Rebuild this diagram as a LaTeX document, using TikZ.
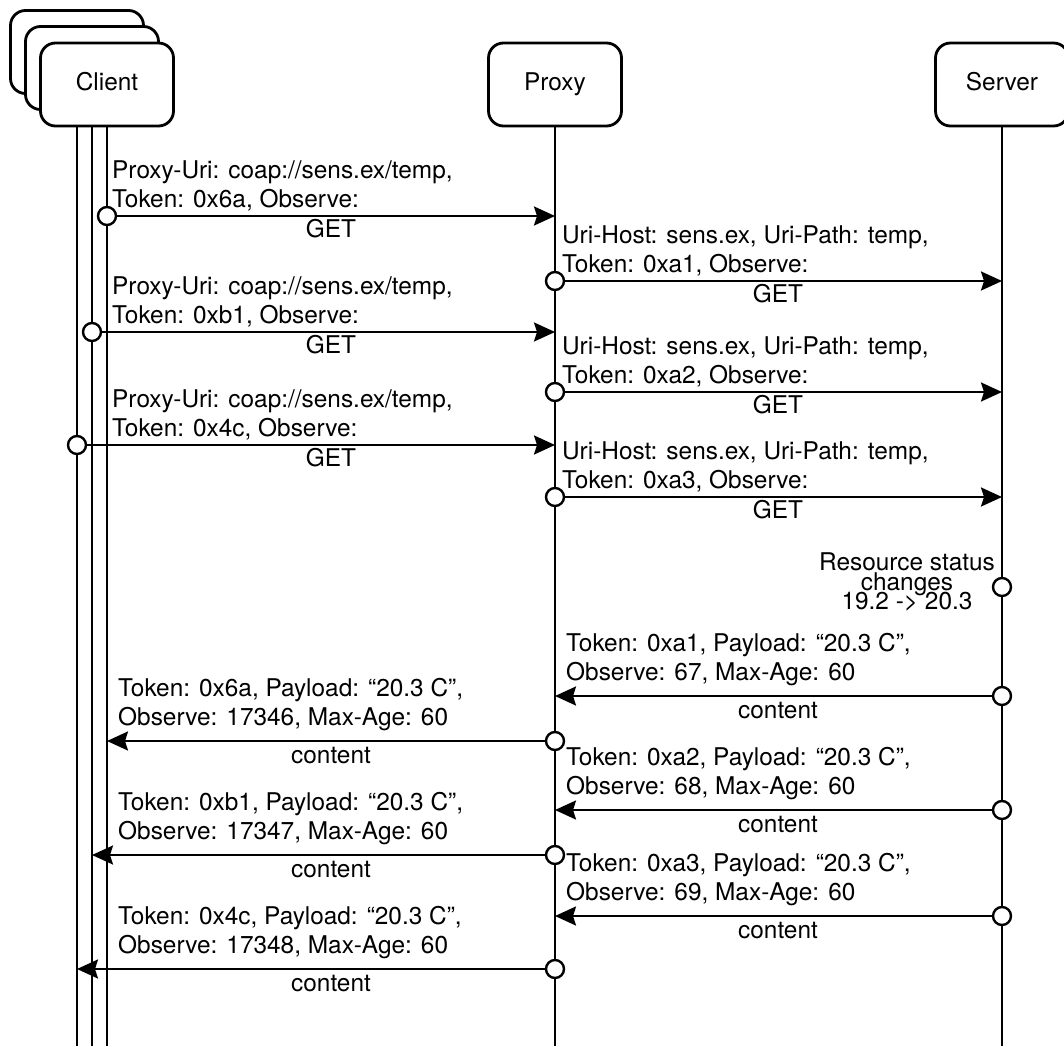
\documentclass[tikz,border=0pt]{standalone}
\usepackage{fontspec}
\setmainfont{TeX Gyre Heros}
\usetikzlibrary{arrows.meta}

\begin{document}
\begin{tikzpicture}[
    x=1pt, y=-1pt,
    every node/.style={font=\fontsize{24.4}{29}\selectfont},
    actor/.style={draw, line width=2.8pt, rounded corners=15pt, fill=white, minimum width=133pt, minimum height=83pt, inner sep=0pt, text height=17.5pt, text depth=5pt},
    life/.style={line width=2.6pt},
    msg/.style={-{Stealth[length=21pt, width=19pt, inset=3pt]}, line width=2.4pt},
    dot/.style={circle, draw, fill=white, line width=2.4pt, minimum size=18pt, inner sep=0pt},
    note/.style={anchor=south west, align=left, inner sep=0pt},
    tag/.style={anchor=base, inner sep=0pt}
]
    \useasboundingbox (0,0) rectangle (1064,1046);
    \coordinate (bottom) at (0,1046);

    % Participants
    \node[actor] (client1) at (77,52) {};
    \draw[life] (client1.south) -- (client1 |- bottom);
    \node[actor] (client2) at (92,68) {};
    \draw[life] (client2.south) -- (client2 |- bottom);
    \node[actor] (client3) at (107,84.5) {Client};
    \draw[life] (client3.south) -- (client3 |- bottom);
    \node[actor] (proxy) at (555,84.5) {Proxy};
    \draw[life] (proxy.south) -- (proxy |- bottom);
    \node[actor] (server) at (1002,84.5) {Server};
    \draw[life] (server.south) -- (server |- bottom);

    % Registrations
    \node[note] (req1txt) at (112,216) {Proxy-Uri: coap://sens.ex/temp,\\Token: 0x6a, Observe:\strut};
    \node[tag] (req1tag) at (331,237) {GET};
    \node[dot] (req1) at (107,216) {};
    \draw[msg] (req1) -- (proxy |- req1);

    \node[note] (relay1txt) at (562,281) {Uri-Host: sens.ex, Uri-Path: temp,\\Token: 0xa1, Observe:\strut};
    \node[tag] (relay1tag) at (778,302) {GET};
    \node[dot] (relay1) at (555,281) {};
    \draw[msg] (relay1) -- (server |- relay1);

    \node[note] (req2txt) at (112,332) {Proxy-Uri: coap://sens.ex/temp,\\Token: 0xb1, Observe:\strut};
    \node[tag] (req2tag) at (331,353) {GET};
    \node[dot] (req2) at (92,332) {};
    \draw[msg] (req2) -- (proxy |- req2);

    \node[note] (relay2txt) at (562,392) {Uri-Host: sens.ex, Uri-Path: temp,\\Token: 0xa2, Observe:\strut};
    \node[tag] (relay2tag) at (778,413) {GET};
    \node[dot] (relay2) at (555,392) {};
    \draw[msg] (relay2) -- (server |- relay2);

    \node[note] (req3txt) at (112,445) {Proxy-Uri: coap://sens.ex/temp,\\Token: 0x4c, Observe:\strut};
    \node[tag] (req3tag) at (331,466) {GET};
    \node[dot] (req3) at (77,445) {};
    \draw[msg] (req3) -- (proxy |- req3);

    \node[note] (relay3txt) at (562,497) {Uri-Host: sens.ex, Uri-Path: temp,\\Token: 0xa3, Observe:\strut};
    \node[tag] (relay3tag) at (778,518) {GET};
    \node[dot] (relay3) at (555,497) {};
    \draw[msg] (relay3) -- (server |- relay3);

    % Status change
    \node[anchor=north, align=center, inner sep=0pt, font={\fontsize{24.4}{19.5}\selectfont\lineskiplimit=-30pt\relax}] (changetxt) at (907,553) {Resource status\\changes\\19.2 -> 20.3};
    \node[dot] (change) at (1002,587) {};

    % Notifications
    \node[note] (res1txt) at (566,689) {Token: 0xa1, Payload: “20.3 C”,\\Observe: 67, Max-Age: 60\strut};
    \node[tag] (res1tag) at (778,718) {content};
    \node[dot] (res1) at (1002,696) {};
    \draw[msg] (res1) -- (proxy |- res1);

    \node[note] (fwd1txt) at (118,734) {Token: 0x6a, Payload: “20.3 C”,\\Observe: 17346, Max-Age: 60\strut};
    \node[tag] (fwd1tag) at (331,763) {content};
    \node[dot] (fwd1) at (555,741) {};
    \draw[msg] (fwd1) -- (client3 |- fwd1);

    \node[note] (res2txt) at (566,803) {Token: 0xa2, Payload: “20.3 C”,\\Observe: 68, Max-Age: 60\strut};
    \node[tag] (res2tag) at (778,832) {content};
    \node[dot] (res2) at (1002,810) {};
    \draw[msg] (res2) -- (proxy |- res2);

    \node[note] (fwd2txt) at (118,848) {Token: 0xb1, Payload: “20.3 C”,\\Observe: 17347, Max-Age: 60\strut};
    \node[tag] (fwd2tag) at (331,877) {content};
    \node[dot] (fwd2) at (555,855) {};
    \draw[msg] (fwd2) -- (client2 |- fwd2);

    \node[note] (res3txt) at (566,909) {Token: 0xa3, Payload: “20.3 C”,\\Observe: 69, Max-Age: 60\strut};
    \node[tag] (res3tag) at (778,938) {content};
    \node[dot] (res3) at (1002,916) {};
    \draw[msg] (res3) -- (proxy |- res3);

    \node[note] (fwd3txt) at (118,962) {Token: 0x4c, Payload: “20.3 C”,\\Observe: 17348, Max-Age: 60\strut};
    \node[tag] (fwd3tag) at (331,991) {content};
    \node[dot] (fwd3) at (555,969) {};
    \draw[msg] (fwd3) -- (client1 |- fwd3);

\end{tikzpicture}
\end{document}
